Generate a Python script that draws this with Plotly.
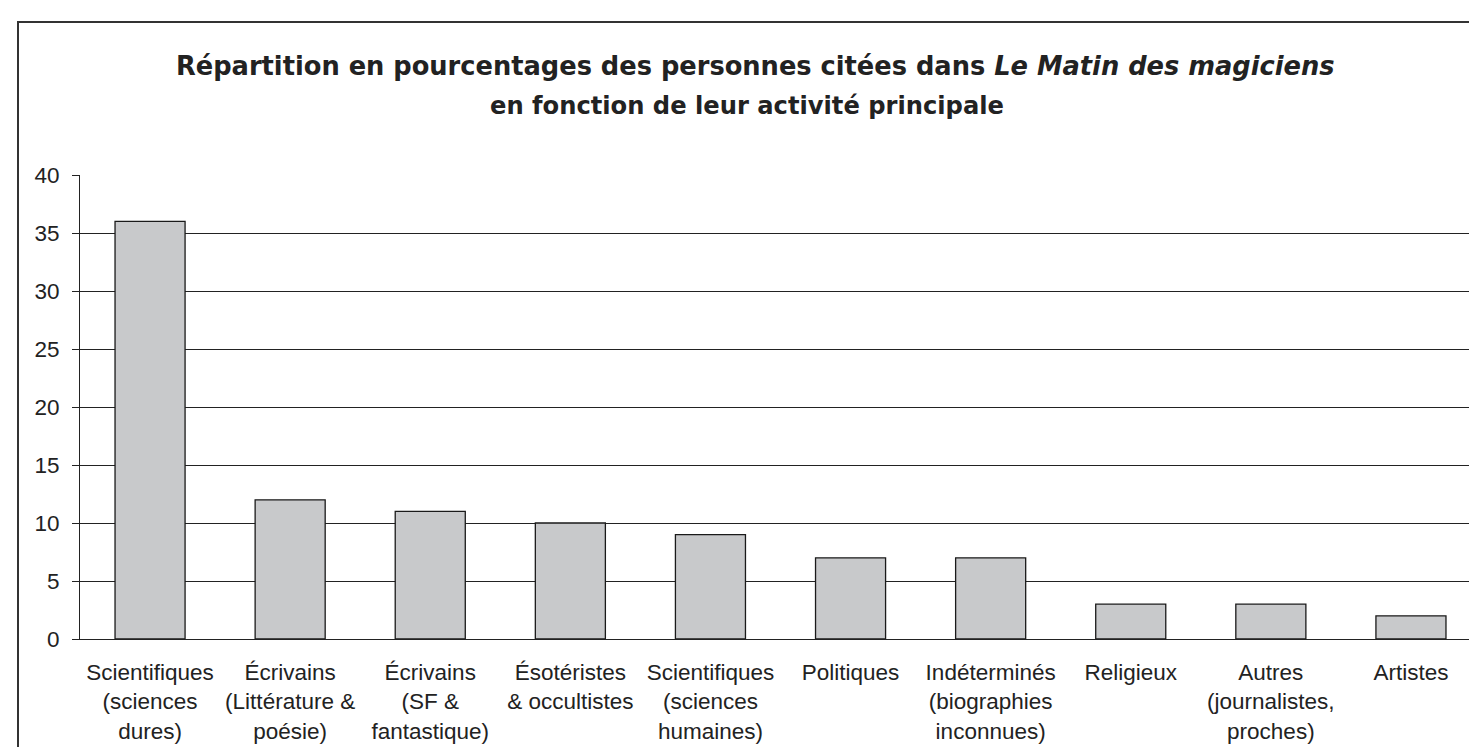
import plotly.graph_objects as go

categories = [
    "Scientifiques<br>(sciences<br>dures)",
    "Écrivains<br>(Littérature &<br>poésie)",
    "Écrivains<br>(SF &<br>fantastique)",
    "Ésotéristes<br>& occultistes",
    "Scientifiques<br>(sciences<br>humaines)",
    "Politiques",
    "Indéterminés<br>(biographies<br>inconnues)",
    "Religieux",
    "Autres<br>(journalistes,<br>proches)",
    "Artistes",
]
values = [36, 12, 11, 10, 9, 7, 7, 3, 3, 2]
y_ticks = [0, 5, 10, 15, 20, 25, 30, 35, 40]

title_line1 = "Répartition en pourcentages des personnes citées dans <i>Le Matin des magiciens</i>"
title_line2 = "en fonction de leur activité principale"

W, H = 1477, 747
L, R, T, B = 72, 4, 167, 116
PH = H - T - B
PW = W - L - R

def py(ypx):
    return (H - B - ypx) / PH

def px(xpx):
    return (xpx - L) / PW

FONT = "Liberation Sans, Arial, sans-serif"
TFONT = "DejaVu Sans, Liberation Sans, sans-serif"

fig = go.Figure(
    go.Bar(
        x=categories,
        y=values,
        marker=dict(color="#c8c9cb", line=dict(color="#1a1a1a", width=1.3)),
        width=0.5,
    )
)

fig.update_layout(
    width=W,
    height=H,
    margin=dict(l=L, r=R, t=T, b=B),
    paper_bgcolor="white",
    plot_bgcolor="white",
    showlegend=False,
    font=dict(family=FONT, size=22.5, color="#222"),
    xaxis=dict(
        type="category",
        range=[-0.5, 9.5],
        showgrid=False,
        showline=True,
        linecolor="#222",
        linewidth=1,
        ticks="",
        tickfont=dict(size=22.5, color="#222"),
        ticklabelstandoff=13,
    ),
    yaxis=dict(
        range=[0, 40],
        tickvals=y_ticks,
        showgrid=True,
        gridcolor="#222",
        gridwidth=1,
        zeroline=False,
        showline=True,
        linecolor="#222",
        linewidth=1,
        ticks="outside",
        ticklen=7,
        tickcolor="#222",
        tickwidth=1,
        tickfont=dict(size=22.5, color="#222"),
        ticklabelstandoff=8,
    ),
    shapes=[
        dict(
            type="rect",
            xref="paper",
            yref="paper",
            x0=px(10),
            x1=px(1490),
            y0=py(760),
            y1=py(14),
            line=dict(color="#333", width=2),
            fillcolor="rgba(0,0,0,0)",
            layer="below",
        )
    ],
    annotations=[
        dict(
            text="<b>" + title_line1 + "</b>",
            xref="paper",
            yref="paper",
            x=px(747),
            y=py(58),
            xanchor="center",
            yanchor="middle",
            showarrow=False,
            font=dict(family=TFONT, size=25.7, color="#222"),
        ),
        dict(
            text="<b>" + title_line2 + "</b>",
            xref="paper",
            yref="paper",
            x=px(739),
            y=py(98),
            xanchor="center",
            yanchor="middle",
            showarrow=False,
            font=dict(family=TFONT, size=24.2, color="#222"),
        ),
    ],
)

fig.write_html("out.html")
